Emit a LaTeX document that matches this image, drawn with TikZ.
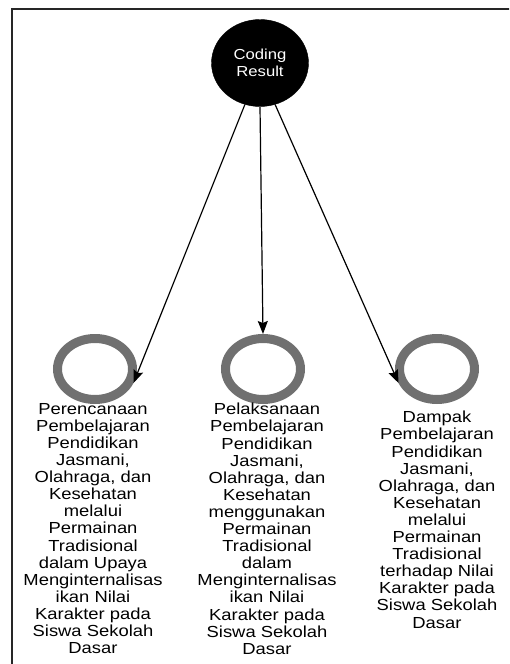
\documentclass[tikz,border=0pt]{standalone}
\usepackage{fontspec}
\setmainfont[FakeStretch=1.15]{Liberation Sans}
\usetikzlibrary{arrows.meta,positioning,shapes.geometric}
\definecolor{ringgray}{HTML}{707070}

\begin{document}
\begin{tikzpicture}[
  x=1pt, y=-1pt,
  hub/.style={
    ellipse, fill=black, draw=black, text=white,
    minimum width=97pt, minimum height=87pt, inner sep=0pt,
    align=center, font=\fontsize{14.5}{17}\selectfont
  },
  ring/.style={
    ellipse, draw=ringgray, line width=9pt,
    minimum width=75pt, minimum height=61pt
  },
  caption/.style={
    anchor=north, align=center, inner sep=0pt,
    font=\fontsize{16}{17.1}\selectfont
  },
  arr/.style={-{Stealth[length=13pt,width=10pt,inset=2pt]}, line width=1.2pt}
]

\useasboundingbox (0,0) rectangle (509,664);
\clip (0,0) rectangle (509,664);
\draw[line width=2pt, draw=black!85] (11.5,8.5) rectangle (530,690);

\node[hub] (coding) at (260,63) {Coding\\Result};

\node[ring] (ring1) at (95,369) {};
\node[ring] (ring2) at (263,369) {};
\node[ring] (ring3) at (437,369) {};

\node[caption] (text1) at (93,403) {
  Perencanaan\\Pembelajaran\\Pendidikan\\Jasmani,\\Olahraga, dan\\Kesehatan\\
  melalui\\Permainan\\Tradisional\\dalam Upaya\\Menginternalisas\\ikan Nilai\\
  Karakter pada\\Siswa Sekolah\\Dasar
};

\node[caption] (text2) at (267,403) {
  Pelaksanaan\\Pembelajaran\\Pendidikan\\Jasmani,\\Olahraga, dan\\Kesehatan\\
  menggunakan\\Permainan\\Tradisional\\dalam\\Menginternalisas\\ikan Nilai\\
  Karakter pada\\Siswa Sekolah\\Dasar
};

\node[caption] (text3) at (437,411) {
  Dampak\\Pembelajaran\\Pendidikan\\Jasmani,\\Olahraga, dan\\Kesehatan\\
  melalui\\Permainan\\Tradisional\\terhadap Nilai\\Karakter pada\\
  Siswa Sekolah\\Dasar
};

\draw[arr] (coding.250) -- (ring1.-20);
\draw[arr] (coding.south) -- (ring2.north);
\draw[arr] (coding.290) -- (ring3.200);

\end{tikzpicture}
\end{document}
